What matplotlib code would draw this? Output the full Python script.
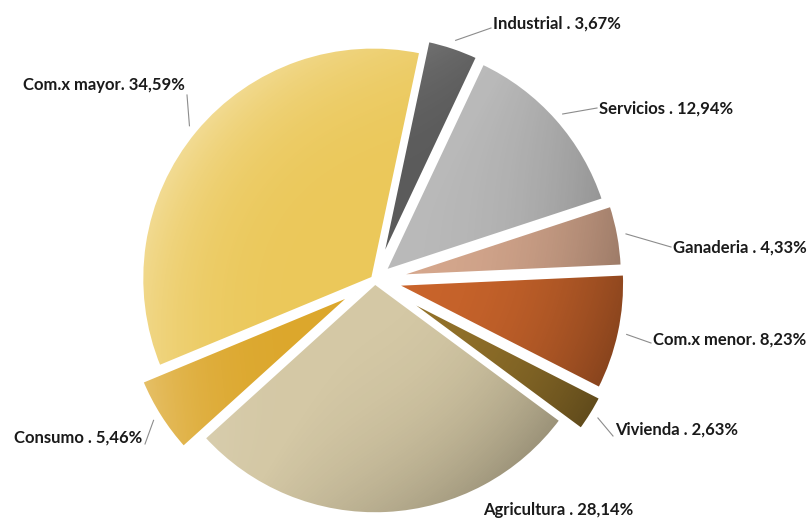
import numpy as np
import matplotlib
matplotlib.use("Agg")
import matplotlib.pyplot as plt
from matplotlib.patches import Wedge

# Data
sectors = ["Industrial", "Servicios", "Ganaderia", "Com.x menor", "Vivienda",
           "Agricultura", "Consumo", "Com.x mayor"]
shares = [3.67, 12.94, 4.33, 8.23, 2.63, 28.14, 5.46, 34.59]
label_text = ["Industrial . 3,67%", "Servicios . 12,94%", "Ganaderia . 4,33%",
              "Com.x menor. 8,23%", "Vivienda . 2,63%", "Agricultura . 28,14%",
              "Consumo . 5,46%", "Com.x mayor. 34,59%"]

# Style / layout
colors = ["#5b5b5b", "#b9b9b9", "#d5a78d", "#c9642b", "#93722a",
          "#d4c8a5", "#dca72c", "#ebc85a"]
explode = [0.06, 0.05, 0.07, 0.08, 0.10, 0.01, 0.10, 0.01]
# text anchor (pixels from top-left), alignment, leader end point
label_pos = [(493, 24), (599, 109), (673, 248), (653, 340), (615, 430),
             (483, 510), (142, 438), (185, 85)]
label_ha = ["left", "left", "left", "left", "left", "left", "right", "right"]
leader_end = [(491, 28), (597, 108), (671, 247), (651, 343), (613, 436),
              None, (145, 444), (187, 95)]

CX, CY, R = 375, 280, 232
W, H = 812, 520

fig = plt.figure(figsize=(W / 100, H / 100), dpi=100)
ax = fig.add_axes([0, 0, 1, 1])

# y axis points down, so counterclock=True runs clockwise on screen
# (pie's explode is in data units, hence * R)
wedges, _ = ax.pie(shares, colors=colors, explode=[e * R for e in explode],
                   center=(CX, CY), radius=R, startangle=-78, counterclock=True,
                   wedgeprops=dict(linewidth=0))

# soft 3D-ish shading clipped to each wedge
x0, x1, y0, y1 = 100, 680, 10, 540
gx, gy = np.meshgrid(np.arange(x0, x1), np.arange(y0, y1))
u = (gx - CX) / R
v = (gy - CY) / R
r = np.clip(np.hypot(u, v), 1e-6, 1.3)
d = (u * 0.85 + v * 0.5) / r
dark = 0.28 * np.clip(r, 0, 1.1) ** 2.5 * np.clip(d, 0, 1)
light = 0.35 * np.clip(r, 0, 1.1) ** 4 * np.clip(-d, 0, 1)
rgba = np.zeros(gx.shape + (4,))
rgba[..., :3] = np.where((light > dark)[..., None], 1.0, 0.0)
rgba[..., 3] = np.maximum(light, dark)

for w in wedges:
    im = ax.imshow(rgba, extent=[x0, x1, y1, y0], origin="upper",
                   interpolation="bilinear", zorder=2)
    im.set_clip_path(w)
    ax.add_patch(Wedge(w.center, w.r, w.theta1, w.theta2, fill=False,
                       ec="white", lw=3, zorder=3))

# labels with leader lines starting at the wedge rim
for w, txt, pos, ha, end in zip(wedges, label_text, label_pos, label_ha, leader_end):
    mid = np.deg2rad((w.theta1 + w.theta2) / 2)
    rim = (w.center[0] + np.cos(mid) * w.r * 1.03,
           w.center[1] + np.sin(mid) * w.r * 1.03)
    ax.text(pos[0], pos[1], txt, ha=ha, va="center", fontsize=12,
            fontweight="bold", color="#1a1a1a", family=["Lato", "DejaVu Sans"],
            zorder=5)
    if end is not None:
        ax.plot([rim[0], end[0]], [rim[1], end[1]], color="#8c8c8c", lw=0.8,
                zorder=4)

ax.set_xlim(0, W)
ax.set_ylim(H, 0)
ax.set_aspect("auto")
ax.axis("off")

fig.savefig("out.png", dpi=100, facecolor="white")
